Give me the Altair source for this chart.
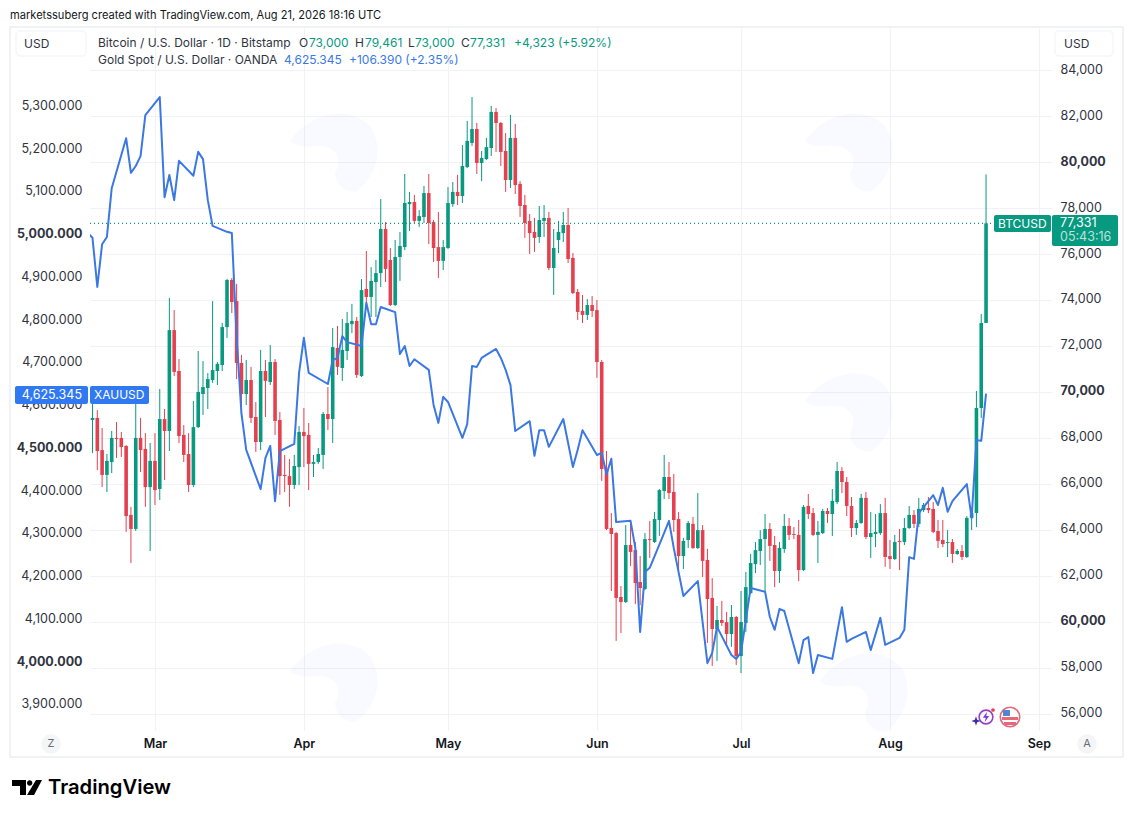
import altair as alt
import pandas as pd

btc_high = [69520,69210,68430,67300,68300,68690,68260,67690,65000,69520,68870,68210,67780,68210,70130,69260,74090,73560,71430,68560,68210,69610,71780,71340,70820,73950,71300,73000,74920,74960,74700,71610,71390,71090,69560,71830,71390,72040,71430,69130,67260,67080,67260,68520,69300,68650,67260,67560,69130,70210,72780,72870,73170,73480,73830,73260,74910,76130,75430,75740,78390,77390,76260,76610,76960,79480,78700,78570,77910,78960,79480,77480,77830,76610,78910,79130,79440,80740,81790,82830,81700,80480,81050,82440,82350,81740,81260,82050,81660,79170,78570,77740,77570,78090,78130,77830,77090,77440,77830,78000,76040,74480,74220,74040,74170,74000,71390,67430,64730,63910,61560,64210,64340,63470,62860,63860,64390,64780,65780,67260,66950,66430,64780,63650,64390,64560,65600,64210,63170,61900,60690,60910,60430,60730,60250,61340,62170,62950,63470,63990,64690,64300,63730,63470,64690,64520,64120,64430,65080,65560,64950,64390,64910,64950,65780,66950,66730,66300,65430,64430,65560,65650,64780,64690,65120,65390,63560,63780,64040,64520,65040,64860,65390,65170,65430,65210,64430,64430,63990,63600,63170,63340,64600,64910,70040,73390,79461]
btc_low = [67340,66600,65860,65650,66470,67130,67170,63910,62560,63950,66520,65000,63080,65080,65300,66170,67430,70690,67780,66950,65650,65860,68430,69000,69260,70390,70300,70910,72350,73430,70560,68870,69430,68650,67390,67470,68910,70300,68130,65520,65650,65000,65780,65950,66730,65730,66300,66870,66650,68340,67780,70740,70480,71390,72560,70610,70650,73870,73260,73260,74560,74780,73740,73740,74830,76170,77000,77300,77180,77350,76430,75650,74960,75300,76220,78050,78130,78220,79740,80700,79480,79170,80090,80260,80440,79830,78700,78870,78610,77610,76700,76000,76090,76480,76740,75300,74220,76040,76520,75610,74260,73130,73000,73130,73260,70610,66130,63990,61340,59170,59510,60820,62430,60770,60730,61380,62780,63430,63730,65340,65340,63910,62210,62300,63210,63170,63170,61950,59080,58080,58300,59820,58910,58910,58120,57770,59560,61210,62120,62470,61340,62650,61510,61690,63000,63560,63600,61770,62210,64470,63730,62560,63820,64300,63730,65120,65600,64600,63690,63780,64260,63600,62780,63250,63780,62390,62300,62690,62250,63340,64040,64080,64120,64780,64730,63860,63210,63250,62820,62560,62910,62690,62780,63990,64120,68870,73000]
btc_open = [68780,68870,67470,66390,66950,68000,68000,67650,64650,64040,68000,67520,65860,67000,65780,68820,68300,72690,70910,68130,67300,65950,68470,69910,70170,70520,70910,71170,72820,74870,73950,71260,69910,70520,68910,67820,70910,70430,71300,68780,66390,66340,65950,66730,68260,68130,66870,66950,67260,69040,68820,71910,71040,71780,72950,73090,70690,74480,74130,74780,75170,77090,75740,73780,75870,76300,78170,78260,77440,77610,78650,77390,76300,75700,76260,78170,78700,78520,79780,80830,81440,79960,80130,80610,82180,81700,80480,79220,81050,79050,78130,77440,76960,76740,77440,77570,75390,76610,76910,77260,75830,74350,73520,73350,73780,73560,71300,66650,64080,63860,61080,60860,63340,63120,61730,61430,63600,63470,64430,65690,66300,65650,64470,62860,63560,64260,63210,63990,62690,61040,59690,60080,59990,59470,60210,58510,59950,61250,62510,63080,63600,64040,63340,62210,63170,64170,63820,63780,62250,65040,64730,63780,63860,64820,64690,65210,66560,66080,65040,64080,64300,65390,63690,63820,63860,64730,62860,62730,63520,63470,64080,64650,64260,64860,64950,64910,63950,63560,63430,63470,62950,63080,62820,64520,64730,69300,73000]
btc_close = [68870,67430,66390,67000,68000,67950,67600,64600,64040,68000,67470,65860,67000,65730,68820,68300,72690,70870,68080,67260,65950,68470,70000,70210,70560,70950,71220,72820,74870,73910,71260,69910,70520,68870,67820,70910,70480,71300,68740,66340,66340,65950,66780,68260,68080,66870,66950,67300,69040,68820,71950,71090,71830,73000,73090,70740,74430,74130,74830,75170,77090,75350,73780,75870,76350,78220,78260,77440,77650,78650,77350,76260,75700,76300,78220,78700,78520,79830,80920,81440,79960,80180,80650,82180,81700,80440,79220,81050,79000,78090,77350,76910,76700,77480,77570,75390,76260,76960,77260,75780,74300,73480,73350,73780,73520,71300,66650,64040,63820,61040,60860,63340,63040,61690,61470,63600,63560,64470,65730,66300,65600,64430,62860,63520,64300,63210,63990,62650,60990,59690,60080,59950,59470,60210,58510,59990,61510,62560,63120,63600,64040,63300,62210,63210,64170,63780,63780,62250,65000,64690,63780,63910,64820,64690,65260,66560,66080,65040,64080,64300,65390,63690,63860,63910,64730,62820,62730,63470,63470,64080,64650,64260,64910,65080,64860,63910,63520,63380,63470,62950,63080,62820,64520,64730,69300,73000,77331]

gold_day = [-3,0,1,2,3,4,7,8,9,10,11,14,15,16,17,18,21,22,23,24,25,28,29,30,31,32,35,36,37,38,39,42,43,44,45,49,50,51,52,53,56,57,58,59,60,63,64,65,66,67,70,71,72,73,74,77,78,79,80,81,84,85,86,87,88,91,92,93,94,95,98,99,100,101,102,105,106,107,108,109,112,113,114,115,116,119,120,121,122,123,126,127,128,129,130,133,134,135,136,137,140,141,142,143,144,147,148,149,150,151,154,155,156,157,158,161,162,163,164,165,168,169,170,171,172,175,176,177,178,179,182,183,184,185,186]
gold_price = [5025,4990,4875,4975,4992,5106,5223,5142,5158,5181,5277,5319,5085,5137,5078,5170,5135,5191,5174,5078,5018,5004,5001,4758,4580,4494,4402,4475,4503,4374,4491,4508,4674,4756,4674,4648,4704,4709,4760,4746,4737,4838,4788,4788,4828,4816,4718,4737,4690,4706,4681,4599,4557,4618,4606,4522,4554,4690,4688,4709,4730,4709,4681,4646,4538,4561,4480,4540,4540,4501,4566,4510,4454,4494,4540,4482,4487,4437,4473,4325,4328,4264,4068,4208,4218,4300,4328,4264,4208,4152,4187,4091,3995,4019,4080,4014,4005,4021,4096,4171,4162,4103,4073,4122,4117,3995,4049,4056,3972,4014,4005,4066,4126,4045,4052,4068,4026,4063,4101,4038,4054,4073,4243,4239,4346,4388,4365,4405,4349,4374,4414,4335,4517,4515,4625.345]

btc_ticks = [56000,58000,60000,62000,64000,66000,68000,70000,72000,74000,76000,78000,80000,82000,84000]
gold_ticks = [3900,4000,4100,4200,4300,4400,4500,4600,4700,4800,4900,5000,5100,5200,5300]
start = pd.Timestamp("2026-02-16")
UP, DOWN, BLUE, INK = "#089981", "#e5404f", "#3b78e3", "#30343f"
GRID = "#f0f2f6"


def day(n):
    return (start + pd.Timedelta(days=n)).strftime("%Y-%m-%d")


candles = pd.DataFrame({
    "date": [day(i) for i in range(len(btc_open))],
    "open": btc_open, "close": btc_close, "high": btc_high, "low": btc_low,
})
candles["dir"] = ["up" if c >= o else "down" for o, c in zip(btc_open, btc_close)]
gold = pd.DataFrame({"date": [day(d) for d in gold_day], "price": gold_price})
one = pd.DataFrame({"a": [0]})

x_scale = alt.Scale(type="utc", domain=["2026-02-15T11:30:00Z", "2026-09-03T17:30:00Z"], padding=0)
x_axis = alt.Axis(title=None, format="%b", tickCount={"interval": "month", "step": 1},
                  grid=True, gridColor=GRID, domain=False, ticks=False, labelPadding=7,
                  labelFont="Inter", labelFontSize=12.5, labelFontWeight=600,
                  labelColor="#131722", labelFlush=False, labelOverlap=False)
X = alt.X("date:T", scale=x_scale, axis=x_axis)
btc_scale = alt.Scale(domain=[55294, 85831], nice=False, zero=False)
gold_scale = alt.Scale(domain=[3838.7, 5480.7], nice=False, zero=False)
color = alt.Color("dir:N", scale=alt.Scale(domain=["up", "down"], range=[UP, DOWN]), legend=None)


def txt(x, y, s, color=INK, size=12.5, weight=400, align="left", font="Inter"):
    return alt.Chart(one).mark_text(text=s, font=font, fontSize=size, fontWeight=weight, align=align,
                                    baseline="middle", color=color).encode(
        x=alt.value(x - 90), y=alt.value(y - 28))


def box(x0, y0, x1, y1, fill, stroke=None, radius=0, sw=1):
    kw = {"fill": fill, "cornerRadius": radius}
    if stroke:
        kw.update(stroke=stroke, strokeWidth=sw)
    return alt.Chart(one).mark_rect(**kw).encode(
        x=alt.value(x0 - 90), x2=alt.value(x1 - 90), y=alt.value(y0 - 28), y2=alt.value(y1 - 28))


def dot(x, y, size, fill=None, stroke=None, sw=1.5, shape="circle", opacity=1):
    kw = {"shape": shape, "size": size, "opacity": opacity}
    if fill:
        kw.update(fill=fill, filled=True)
    else:
        kw.update(filled=False)
    if stroke:
        kw.update(stroke=stroke, strokeWidth=sw)
    else:
        kw.update(strokeWidth=0)
    return alt.Chart(one).mark_point(**kw).encode(x=alt.value(x - 90), y=alt.value(y - 28))


wicks = alt.Chart(candles).mark_rule(strokeWidth=1).encode(
    x=X,
    y=alt.Y("high:Q", scale=btc_scale, axis=alt.Axis(
        title=None, orient="right", values=btc_ticks, format=",d", grid=True, gridColor=GRID,
        domain=False, ticks=False, labelPadding=8, labelAlign="left", labelOffset=-1,
        labelFont="Inter", labelFontSize=12.5, labelColor=INK,
        labelFontWeight={"condition": {"test": "datum.value % 10000 === 0", "value": 700}, "value": 400})),
    y2="low:Q", color=color)
bodies = alt.Chart(candles).mark_bar(size=3.6).encode(
    x=X, y=alt.Y("open:Q", scale=btc_scale, axis=None), y2="close:Q", color=color)
last_line = alt.Chart(one).mark_rule(strokeDash=[1, 3], strokeWidth=1.2, color=UP).encode(
    y=alt.Y(datum=btc_close[-1], scale=btc_scale, axis=None), x=alt.value(0), x2=alt.value(904))
gold_line = alt.Chart(gold).mark_line(color=BLUE, strokeWidth=2, clip=True, strokeJoin="round").encode(
    x=X,
    y=alt.Y("price:Q", scale=gold_scale, axis=alt.Axis(
        title=None, orient="left", values=gold_ticks, format=",.3f", grid=False,
        domain=False, ticks=False, labelPadding=8, labelAlign="right",
        labelFont="Inter", labelFontSize=12.5, labelColor=INK,
        labelFontWeight={"condition": {"test": "datum.value % 500 === 0", "value": 700}, "value": 400})))

TV_T = "M-1,-0.5 L-0.067,-0.5 L-0.067,0.5 L-0.467,0.5 L-0.467,-0.1 L-1,-0.1 Z"
TV_DOT = "M0,-0.3 A0.18,0.18 0 1,1 0.36,-0.3 A0.18,0.18 0 1,1 0,-0.3 Z"
TV_SLASH = "M0.6,-0.5 L1,-0.5 L0.47,0.5 L0,0.5 Z"
BOLT = "M0.2,-1 L-0.6,0.15 L-0.05,0.15 L-0.25,1 L0.6,-0.2 L0.05,-0.2 Z"
STAR = "M0,-1 L0.25,-0.25 L1,0 L0.25,0.25 L0,1 L-0.25,0.25 L-1,0 L-0.25,-0.25 Z"
GHOST = "M-1,-0.2 C-0.5,-0.9 0.4,-1 0.8,-0.5 C1.05,-0.1 1,0.5 0.5,0.9 C0.3,1 0,0.8 0,0.5 C0.2,0.2 0,-0.1 -0.4,-0.1 C-0.7,-0.05 -0.9,-0.1 -1,-0.2 Z"

overlay = [
    dot(335, 150, 8100, fill="#2962ff", shape=GHOST, opacity=0.03),
    dot(850, 150, 8100, fill="#2962ff", shape=GHOST, opacity=0.03),
    dot(850, 410, 8100, fill="#2962ff", shape=GHOST, opacity=0.03),
    dot(335, 680, 8100, fill="#2962ff", shape=GHOST, opacity=0.03),
    dot(865, 690, 8100, fill="#2962ff", shape=GHOST, opacity=0.03),
    box(10, 27, 1123, 757, "transparent", stroke="#eceef2", sw=1.5),
    box(16, 31, 86, 56, "#ffffff", stroke="#f0f2f5", radius=4),
    txt(24, 44, "USD", size=12),
    box(1055, 31, 1113, 56, "#ffffff", stroke="#f0f2f5", radius=4),
    txt(1064, 44, "USD", size=12),
    txt(10, 16, "marketssuberg created with TradingView.com, Aug 21, 2026 18:16 UTC", color="#131722", size=11.1),
    txt(98, 43, "Bitcoin / U.S. Dollar · 1D · Bitstamp", size=12),
    txt(299, 43, "O", size=12), txt(309, 43, "73,000", color=UP, size=12),
    txt(355, 43, "H", size=12), txt(365, 43, "79,461", color=UP, size=12),
    txt(408, 43, "L", size=12), txt(415, 43, "73,000", color=UP, size=12),
    txt(461, 43, "C", size=12), txt(470, 43, "77,331", color=UP, size=12),
    txt(514, 43, "+4,323 (+5.92%)", color=UP, size=12),
    txt(98, 60, "Gold Spot / U.S. Dollar · OANDA", size=12),
    txt(284, 60, "4,625.345", color=BLUE, size=12),
    txt(349, 60, "+106.390 (+2.35%)", color=BLUE, size=12),
    box(15, 386, 88, 404, "#3179f0", radius=2),
    txt(82, 395, "4,625.345", color="#ffffff", align="right"),
    box(90, 386, 149, 404, "#3179f0", radius=2),
    txt(94, 395, "XAUUSD", color="#ffffff", size=12),
    box(994, 215, 1051, 232, UP, radius=2),
    txt(998, 224, "BTCUSD", color="#ffffff", size=12),
    box(1052, 215, 1118, 246, UP, radius=2),
    txt(1060, 223, "77,331", color="#ffffff"),
    txt(1060, 237, "05:43:16", color="#b9e3da"),
    dot(51, 744, 380, fill="#f4f5f7"),
    txt(51, 744, "Z", color="#6a6d78", size=11, align="center"),
    dot(1087, 744, 380, fill="#f4f5f7"),
    txt(1087, 744, "A", color="#6a6d78", size=11, align="center"),
    dot(986, 717, 190, stroke="#9c3fc4", sw=1.6),
    dot(986, 717, 110, fill="#7a3fd0", shape=BOLT),
    dot(976, 721, 90, fill="#3d2fa8", shape=STAR),
    dot(993, 710, 14, fill="#e5404f"),
    dot(1010, 717, 380, fill="#ffffff", stroke="#e5697a", sw=1.6),
    box(1002, 717, 1018, 720, "#e5697a"),
    box(1004, 722, 1016, 725, "#e5697a"),
    box(1003, 710, 1010, 716, "#4f87d8"),
    dot(27, 787.5, 900, fill="#000000", shape=TV_T),
    dot(27, 787.5, 900, fill="#000000", shape=TV_DOT),
    dot(27, 787.5, 900, fill="#000000", shape=TV_SLASH),
    txt(48, 788, "TradingView", color="#000000", size=20.2, weight=600),
]

chart = alt.layer(wicks, bodies, last_line, gold_line, *overlay).resolve_scale(y="independent").properties(
    width=962, height=702,
    padding={"left": 82, "top": 20, "right": 73, "bottom": 70},
    autosize=alt.AutoSizeParams(type="none"),
).configure_view(stroke=None)

chart.save("out.html", embed_options={"renderer": "svg", "actions": False})
